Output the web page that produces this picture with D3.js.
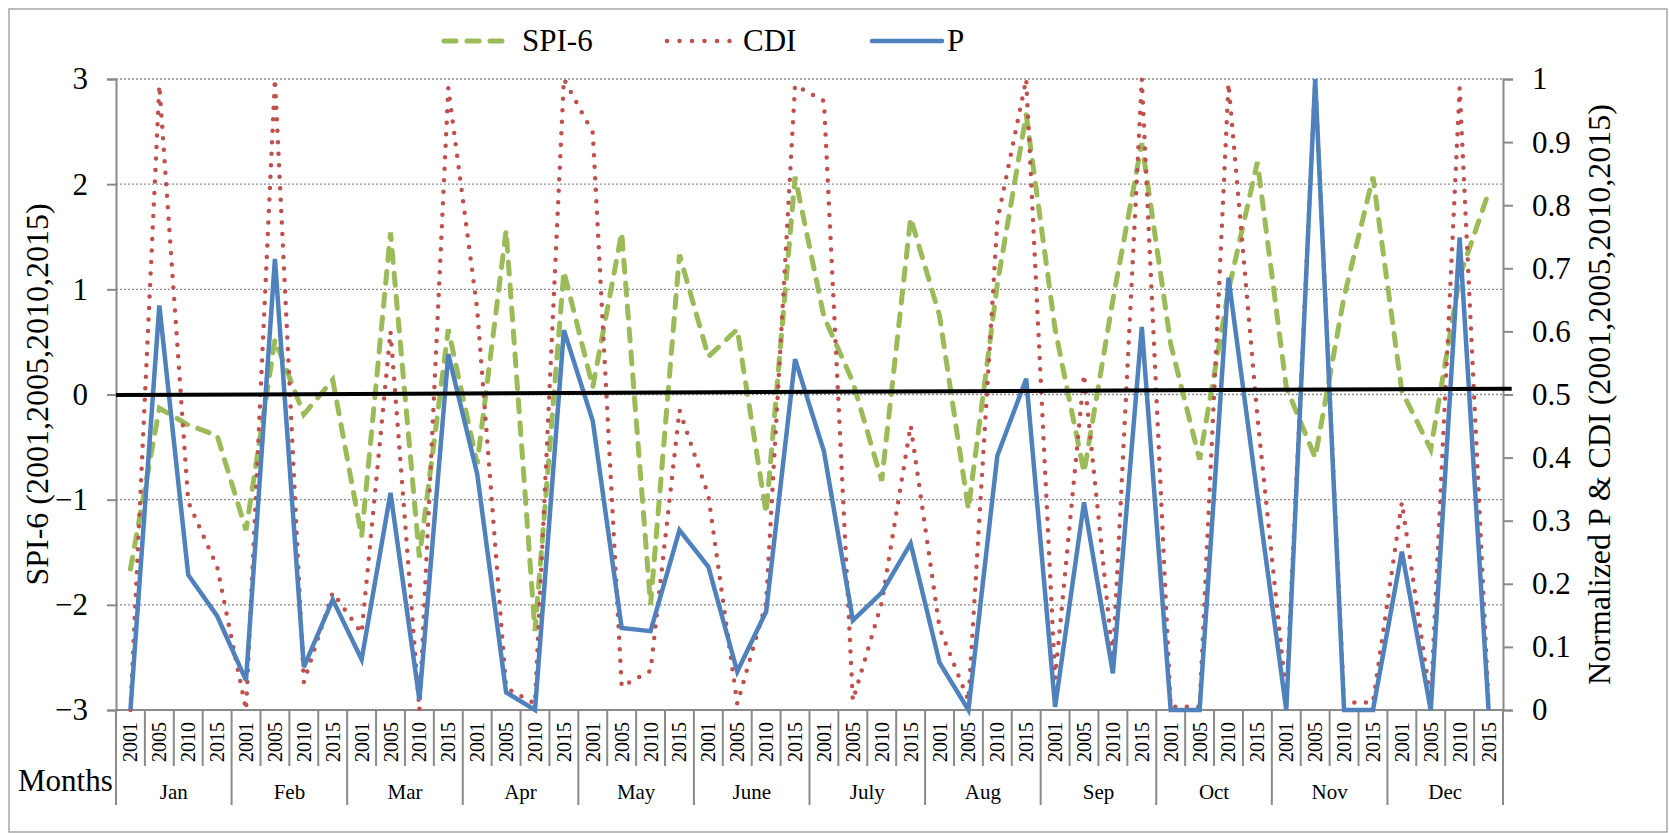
<!DOCTYPE html>
<html>
<head>
<meta charset="utf-8">
<script src="https://cdn.jsdelivr.net/npm/d3@7"></script>
<style>
html,body{margin:0;padding:0;background:#fff;}
svg{display:block;}
svg text{font-family:"Liberation Serif","Times New Roman",serif !important;}
</style>
</head>
<body>
<svg id="chart" width="1669" height="833" font-family="Liberation Serif"></svg>
<script>
// ---- data ----
const months = ["Jan","Feb","Mar","Apr","May","June","July","Aug","Sep","Oct","Nov","Dec"];
const years = ["2001","2005","2010","2015"];
const spi6 = [
  -1.66,-0.13,-0.29,-0.39,
  -1.29, 0.52,-0.19, 0.14,
  -1.35, 1.54,-1.55, 0.62,
  -0.66, 1.56,-2.25, 1.17,
   0.07, 1.54,-2.00, 1.33,
   0.36, 0.62,-1.13, 2.07,
   0.74, 0.12,-0.82, 1.68,
   0.75,-1.09, 1.05, 2.66,
   0.62,-0.74, 0.90, 2.39,
   0.48,-0.62, 0.99, 2.21,
   0.07,-0.60, 0.93, 2.07,
   0.03,-0.52, 1.12, 1.92
];
const cdi = [
  0.000,0.990,0.330,0.227,
  0.000,1.000,0.044,0.186,
  0.122,0.600,0.000,0.986,
  0.635,0.035,0.010,1.000,
  0.915,0.037,0.062,0.475,
  0.340,0.010,0.170,0.990,
  0.965,0.015,0.170,0.451,
  0.130,0.015,0.775,1.000,
  0.050,0.532,0.080,1.000,
  0.005,0.005,0.993,0.465,
  0.020,1.000,0.012,0.012,
  0.329,0.014,0.986,0.010
];
const pNorm = [
  0.000,0.641,0.214,0.149,
  0.047,0.715,0.068,0.175,
  0.080,0.344,0.016,0.564,
  0.374,0.028,0.000,0.602,
  0.458,0.130,0.125,0.285,
  0.227,0.061,0.156,0.556,
  0.410,0.142,0.186,0.264,
  0.075,0.000,0.403,0.525,
  0.005,0.329,0.058,0.607,
  0.000,0.000,0.685,0.340,
  0.000,1.000,0.000,0.000,
  0.251,0.000,0.749,0.000
];
const leftTicks = [-3,-2,-1,0,1,2,3];
const rightTicks = [0,0.1,0.2,0.3,0.4,0.5,0.6,0.7,0.8,0.9,1];
const trendIndex = [-0.5, 47.8];
const trendValue = [-0.005, 0.055];

// ---- layout ----
const FONT = "Liberation Serif";
const svg = d3.select("#chart");
const L = 116, R = 1503, T = 79, B = 710;
const n = months.length * years.length;
const cats = d3.range(n);
const x = d3.scaleBand().domain(cats).range([L, R]).padding(0);
const xi = d3.scaleLinear().domain([-0.5, n - 0.5]).range([L, R]);
const yL = d3.scaleLinear().domain([-3, 3]).range([B, T]);
const yR = d3.scaleLinear().domain([0, 1]).range([B, T]);
const cx = i => x(i) + x.bandwidth() / 2;
const AX = "#8a8a8a";

// outer frame
svg.append("rect").attr("x", 9).attr("y", 9).attr("width", 1658).attr("height", 823)
  .attr("fill", "none").attr("stroke", "#a6a6a6").attr("stroke-width", 1.5);

// gridlines
svg.append("g").selectAll("line").data(leftTicks.filter(d => d > -3)).join("line")
  .attr("x1", L).attr("x2", R).attr("y1", d => yL(d)).attr("y2", d => yL(d))
  .attr("stroke", "#8c8c8c").attr("stroke-width", 1.3).attr("stroke-dasharray", "2,2");

// left axis
const gL = svg.append("g").attr("transform", `translate(${L},0)`)
  .call(d3.axisLeft(yL).tickValues(leftTicks).tickSize(9).tickPadding(19).tickFormat(d3.format("d")))
  .attr("font-family", FONT);
gL.select(".domain").attr("stroke", AX).attr("stroke-width", 2);
gL.selectAll(".tick line").attr("stroke", AX).attr("stroke-width", 2);
gL.selectAll(".tick text").attr("font-size", 31).attr("font-family", FONT).attr("fill", "#000");

// right axis
const gR = svg.append("g").attr("transform", `translate(${R},0)`)
  .call(d3.axisRight(yR).tickValues(rightTicks).tickSize(10).tickPadding(19).tickFormat(d => String(d)))
  .attr("font-family", FONT);
gR.select(".domain").attr("stroke", AX).attr("stroke-width", 2);
gR.selectAll(".tick line").attr("stroke", AX).attr("stroke-width", 2);
gR.selectAll(".tick text").attr("font-size", 31).attr("font-family", FONT).attr("fill", "#000");

// category axis
svg.append("line").attr("x1", L).attr("x2", R).attr("y1", B).attr("y2", B)
  .attr("stroke", AX).attr("stroke-width", 2);
const bounds = d3.range(n + 1);
svg.append("g").selectAll("line").data(bounds).join("line")
  .attr("x1", i => xi(i - 0.5)).attr("x2", i => xi(i - 0.5))
  .attr("y1", B).attr("y2", i => (i % years.length === 0) ? 805 : 766)
  .attr("stroke", AX).attr("stroke-width", 2);
svg.append("g").selectAll("text").data(cats).join("text")
  .attr("transform", i => `translate(${cx(i)},722) rotate(-90)`)
  .attr("text-anchor", "end").attr("dominant-baseline", "central")
  .attr("font-family", FONT).attr("font-size", 20).text(i => years[i % years.length]);
svg.append("g").selectAll("text").data(months).join("text")
  .attr("x", (m, k) => (xi(k * 4 - 0.5) + xi(k * 4 + 3.5)) / 2).attr("y", 799)
  .attr("text-anchor", "middle").attr("font-family", FONT).attr("font-size", 21).text(m => m);
svg.append("text").attr("x", 18).attr("y", 791).attr("font-family", FONT).attr("font-size", 31).text("Months");

// axis titles
svg.append("text").attr("transform", `translate(48,${(T + B) / 2}) rotate(-90)`)
  .attr("text-anchor", "middle").attr("font-family", FONT).attr("font-size", 32)
  .text("SPI-6 (2001,2005,2010,2015)");
svg.append("text").attr("transform", `translate(1610,${(T + B) / 2}) rotate(-90)`)
  .attr("text-anchor", "middle").attr("font-family", FONT).attr("font-size", 32)
  .text("Normalized P & CDI (2001,2005,2010,2015)");

// series
const colSPI = "#9BBB59", colCDI = "#C0504D", colP = "#4F81BD";
const lineL = d3.line().x((d, i) => cx(i)).y(d => yL(d));
const lineR = d3.line().x((d, i) => cx(i)).y(d => yR(d));

svg.append("path").datum(spi6).attr("d", lineL).attr("fill", "none")
  .attr("stroke", colSPI).attr("stroke-width", 5).attr("stroke-linecap", "round")
  .attr("stroke-dasharray", "12,11");

svg.append("path").datum(cdi).attr("d", lineR).attr("fill", "none")
  .attr("stroke", colCDI).attr("stroke-width", 4.5).attr("stroke-linecap", "round")
  .attr("stroke-dasharray", "0,11.5");

svg.append("path").datum(pNorm).attr("d", lineR).attr("fill", "none")
  .attr("stroke", colP).attr("stroke-width", 4.5).attr("stroke-linejoin", "miter");

// trend line
svg.append("line")
  .attr("x1", xi(trendIndex[0])).attr("y1", yL(trendValue[0]))
  .attr("x2", xi(trendIndex[1])).attr("y2", yL(trendValue[1]))
  .attr("stroke", "#000").attr("stroke-width", 4);

// legend
const legend = [
  {name: "SPI-6", color: colSPI, x1: 444, x2: 506, tx: 522, dash: "12,11", w: 5},
  {name: "CDI", color: colCDI, x1: 667, x2: 730, tx: 743, dash: "0,12.5", w: 4.5},
  {name: "P", color: colP, x1: 872, x2: 942, tx: 947, dash: null, w: 4.5}
];
const lg = svg.append("g").selectAll("g").data(legend).join("g");
lg.append("line").attr("x1", d => d.x1).attr("x2", d => d.x2).attr("y1", 41).attr("y2", 41)
  .attr("stroke", d => d.color).attr("stroke-width", d => d.w).attr("stroke-linecap", "round")
  .attr("stroke-dasharray", d => d.dash);
lg.append("text").attr("x", d => d.tx).attr("y", 51).attr("font-family", FONT)
  .attr("font-size", 31).text(d => d.name);
</script>
</body>
</html>
